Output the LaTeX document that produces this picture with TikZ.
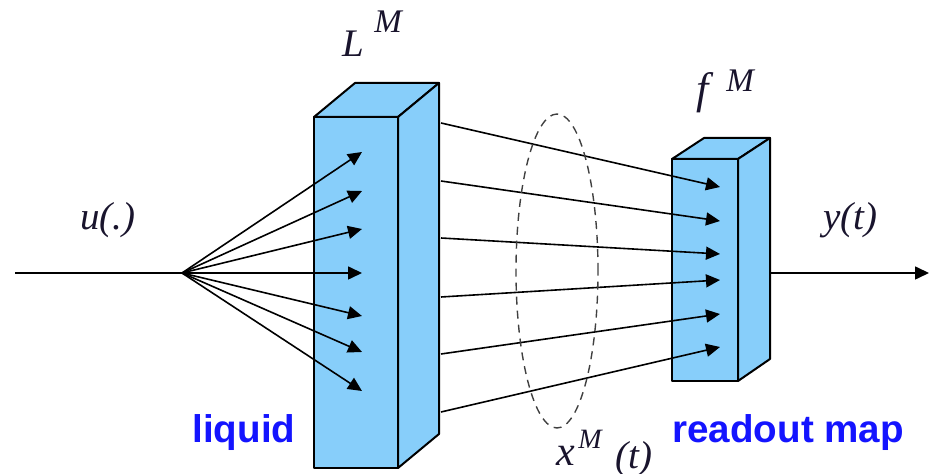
\documentclass[tikz,border=0pt]{standalone}
\usepackage{fontspec}
\setmainfont{Liberation Serif}
\setsansfont{Liberation Sans}
\usetikzlibrary{arrows.meta,shapes.geometric}
\definecolor{boxblue}{RGB}{135,206,250}
\definecolor{lblblue}{RGB}{20,20,255}
\definecolor{mathink}{RGB}{25,20,45}
\begin{document}
\begin{tikzpicture}[x=0.5pt,y=-0.5pt,
 boxface/.style={fill=boxblue, draw=black, line width=1pt, line join=round},
 link/.style={draw=black, line width=0.8pt, -{Triangle[length=7pt,width=6.5pt]}},
 plainlink/.style={draw=black, line width=0.8pt},
 mathlbl/.style={inner sep=0, anchor=base west, text=mathink, font=\itshape\fontsize{19.5}{20}\selectfont},
 suplbl/.style={inner sep=0, anchor=base west, text=mathink, font=\itshape\fontsize{16.5}{17}\selectfont},
 bluelbl/.style={inner sep=0, anchor=base west, text=lblblue, font=\sffamily\bfseries\fontsize{19.3}{20}\selectfont}]
\useasboundingbox (0,0) rectangle (930,474);
% liquid box
\coordinate (lA) at (314,117); \coordinate (lB) at (398,117);
\coordinate (lC) at (398,468); \coordinate (lD) at (314,468);
\coordinate (lE) at (355,83);  \coordinate (lF) at (439,83);
\coordinate (lG) at (439,434);
\path[boxface] (lA) -- (lE) -- (lF) -- (lB) -- cycle;
\path[boxface] (lB) -- (lF) -- (lG) -- (lC) -- cycle;
\path[boxface] (lA) -- (lB) -- (lC) -- (lD) -- cycle;
% readout box
\coordinate (rA) at (672,159); \coordinate (rB) at (738,159);
\coordinate (rC) at (738,381); \coordinate (rD) at (672,381);
\coordinate (rE) at (704,138); \coordinate (rF) at (770,138);
\coordinate (rG) at (770,359);
\path[boxface] (rA) -- (rE) -- (rF) -- (rB) -- cycle;
\path[boxface] (rB) -- (rF) -- (rG) -- (rC) -- cycle;
\path[boxface] (rA) -- (rB) -- (rC) -- (rD) -- cycle;
% input
\coordinate (in) at (15,273);
\coordinate (src) at (182,273);
\draw[plainlink] (in) -- (src);
\foreach \i/\y in {1/152,2/191,3/229,4/273,5/316,6/352,7/391}{
  \coordinate (t\i) at (362,\y);
  \draw[link] (src) -- (t\i);
}
% liquid to readout
\foreach \i/\ya/\yb in {1/123/187,2/181/221,3/238/254,4/297/280,5/354/314,6/412/347}{
  \coordinate (s\i) at (441,\ya);
  \coordinate (e\i) at (720,\yb);
  \draw[link] (s\i) -- (e\i);
}
% dashed ellipse
\node[draw=black!75, line width=0.7pt, dash pattern=on 4pt off 3pt, ellipse, minimum width=41pt, minimum height=157pt, inner sep=0] (state) at (557,271) {};
% output
\coordinate (o0) at (770,273);
\coordinate (o1) at (929,273);
\draw[link] (o0) -- (o1);
% labels
\node[mathlbl] (Ll) at (342,57) {L};
\node[suplbl] (LM) at (374,33) {M};
\node[mathlbl, font=\itshape\fontsize{22}{23}\selectfont] (fl) at (696,104) {f};
\node[suplbl] (fM) at (726,92) {M};
\node[mathlbl] (ul) at (80,230) {u(.)};
\node[mathlbl] (yl) at (823,230) {y(t)};
\node[mathlbl, font=\itshape\fontsize{21}{22}\selectfont] (xl) at (556,466) {x};
\node[suplbl, font=\itshape\fontsize{14}{15}\selectfont] (xM) at (578,449) {M};
\node[mathlbl] (xt) at (615,469) {(t)};
\node[bluelbl] (liq) at (192,443) {liquid};
\node[bluelbl] (ro) at (672,443) {readout map};
\end{tikzpicture}
\end{document}
